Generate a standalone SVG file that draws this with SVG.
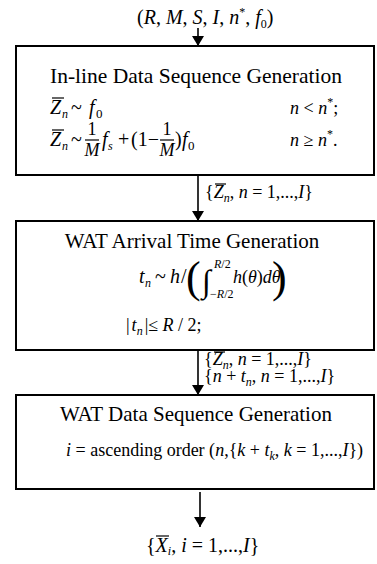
<svg xmlns="http://www.w3.org/2000/svg" width="377" height="564" viewBox="0 0 377 564">
<style>
text { font-family: "Liberation Serif", "Times New Roman", serif; fill: #000; }
.title { font-size: 21px; text-anchor: middle; }
.m { font-size: 18px; }
.m20 { font-size: 20px; }
.i { font-style: italic; }
.sub { font-size: 12px; }
.sup { font-size: 12px; }
.mid { text-anchor: middle; }
.box { fill: #fff; stroke: #000; stroke-width: 2; }
.conn { stroke: #000; stroke-width: 1.6; fill: none; }
.ov { stroke: #000; stroke-width: 1.2; }
</style>
<defs>
<marker id="ah" markerUnits="userSpaceOnUse" markerWidth="10" markerHeight="12" viewBox="0 0 10 12" refX="10" refY="6" orient="auto">
<path d="M0,0 L10,6 L0,12 z" fill="#000"/>
</marker>
</defs>

<g id="connectors">
<line class="conn" x1="198" y1="28" x2="198" y2="46" marker-end="url(#ah)"/>
<line class="conn" x1="198" y1="175" x2="198" y2="221" marker-end="url(#ah)"/>
<line class="conn" x1="198" y1="350" x2="198" y2="395" marker-end="url(#ah)"/>
<line class="conn" x1="200" y1="492" x2="200" y2="527" marker-end="url(#ah)"/>
</g>

<g id="input">
<text x="137" y="24" class="m20">(<tspan class="i">R</tspan>, <tspan class="i">M</tspan>, <tspan class="i">S</tspan>, <tspan class="i">I</tspan>, <tspan class="i">n</tspan><tspan class="sup" dy="-8">*</tspan><tspan dy="8">, </tspan><tspan class="i">f</tspan><tspan class="sub" dy="4">0</tspan><tspan dy="-4">)</tspan></text>
</g>

<g id="node-inline">
<rect class="box" x="16" y="46" width="358" height="129"/>
<text x="196" y="83" class="title" style="font-size:21.5px">In-line Data Sequence Generation</text>
<!-- line 1 -->
<text x="50" y="114" class="m20 i">Z</text>
<line class="ov" x1="52" y1="98" x2="64" y2="98"/>
<text x="62" y="118" class="sub i">n</text>
<text x="71" y="114" class="m20">~</text>
<text x="89" y="114" class="m20 i">f</text>
<text x="96" y="118" class="sub" style="font-size:13px">0</text>
<text x="290" y="114" class="m"><tspan class="i">n</tspan> &lt; <tspan class="i">n</tspan><tspan class="sup" dy="-8">*</tspan><tspan dy="8">;</tspan></text>
<!-- line 2 -->
<text x="50" y="146" class="m20 i">Z</text>
<line class="ov" x1="52" y1="130" x2="64" y2="130"/>
<text x="62" y="150" class="sub i">n</text>
<text x="71" y="146" class="m20">~</text>
<text x="92" y="135" class="m mid">1</text>
<line class="ov" x1="85" y1="140" x2="99" y2="140"/>
<text x="92" y="156" class="m mid i">M</text>
<text x="102" y="146" class="m20 i">f</text>
<text x="108" y="150" class="sub i">s</text>
<text x="118" y="146" class="m20">+</text>
<text x="131" y="146" class="m20">(1−</text>
<text x="167" y="135" class="m mid">1</text>
<line class="ov" x1="160" y1="140" x2="174" y2="140"/>
<text x="167" y="156" class="m mid i">M</text>
<text x="175" y="146" class="m20">)</text>
<text x="182" y="146" class="m20 i">f</text>
<text x="188" y="150" class="sub" style="font-size:13px">0</text>
<text x="290" y="146" class="m"><tspan class="i">n</tspan> ≥ <tspan class="i">n</tspan><tspan class="sup" dy="-8">*</tspan><tspan dy="8">.</tspan></text>
</g>

<g id="label-z">
<text x="205" y="198" class="m">{<tspan class="i">Z</tspan><tspan class="sub i" dy="4">n</tspan><tspan dy="-4">, </tspan><tspan class="i">n</tspan> = 1,...,<tspan class="i">I</tspan>}</text>
<line class="ov" x1="215" y1="184" x2="226" y2="184"/>
</g>

<g id="node-arrival">
<rect class="box" x="16" y="221" width="358" height="129"/>
<text x="192" y="248" class="title">WAT Arrival Time Generation</text>
<text x="139" y="283" class="m20 i">t</text>
<text x="145" y="287" class="sub i">n</text>
<text x="155" y="283" class="m20">~</text>
<text x="170" y="283" class="m20 i">h</text>
<text x="181" y="283" class="m20">/</text>
<text x="186" y="292" style="font-size:44px">(</text>
<text x="202" y="292" style="font-size:32px">∫</text>
<text x="214" y="268" class="sup"><tspan class="i">R</tspan>/2</text>
<text x="210" y="298" class="sup">−<tspan class="i">R</tspan>/2</text>
<text x="233" y="283" class="m"><tspan class="i">h</tspan>(<tspan class="i">θ</tspan>)<tspan class="i">dθ</tspan></text>
<text x="272" y="292" style="font-size:44px">)</text>
<text x="126" y="331" class="m">|<tspan dx="2" class="i">t</tspan><tspan class="sub i" dy="4">n</tspan><tspan dy="-4" dx="2">|≤ </tspan><tspan class="i">R</tspan> / 2;</text>
</g>

<g id="label-zt">
<text x="204" y="365" class="m">{<tspan class="i">Z</tspan><tspan class="sub i" dy="4">n</tspan><tspan dy="-4">, </tspan><tspan class="i">n</tspan> = 1,...,<tspan class="i">I</tspan>}</text>
<line class="ov" x1="214" y1="352" x2="225" y2="352"/>
<text x="204" y="382" class="m">{<tspan class="i">n</tspan> + <tspan class="i">t</tspan><tspan class="sub i" dy="4">n</tspan><tspan dy="-4">, </tspan><tspan class="i">n</tspan> = 1,...,<tspan class="i">I</tspan>}</text>
</g>

<g id="node-wat">
<rect class="box" x="16" y="395" width="358" height="94"/>
<text x="196" y="421" class="title">WAT Data Sequence Generation</text>
<text x="66" y="456" class="m"><tspan class="i">i</tspan> = ascending order (<tspan class="i">n</tspan>,{<tspan class="i">k</tspan> + <tspan class="i">t</tspan><tspan class="sub i" dy="4">k</tspan><tspan dy="-4">, </tspan><tspan class="i">k</tspan> = 1,...,<tspan class="i">I</tspan>})</text>
</g>

<g id="output">
<text x="146" y="552" class="m20">{<tspan class="i">X</tspan><tspan class="sub i" dy="3">i</tspan><tspan dy="-3">, </tspan><tspan class="i">i</tspan> = 1,...,<tspan class="i">I</tspan>}</text>
<line class="ov" x1="156" y1="536" x2="169" y2="536"/>
</g>
</svg>
